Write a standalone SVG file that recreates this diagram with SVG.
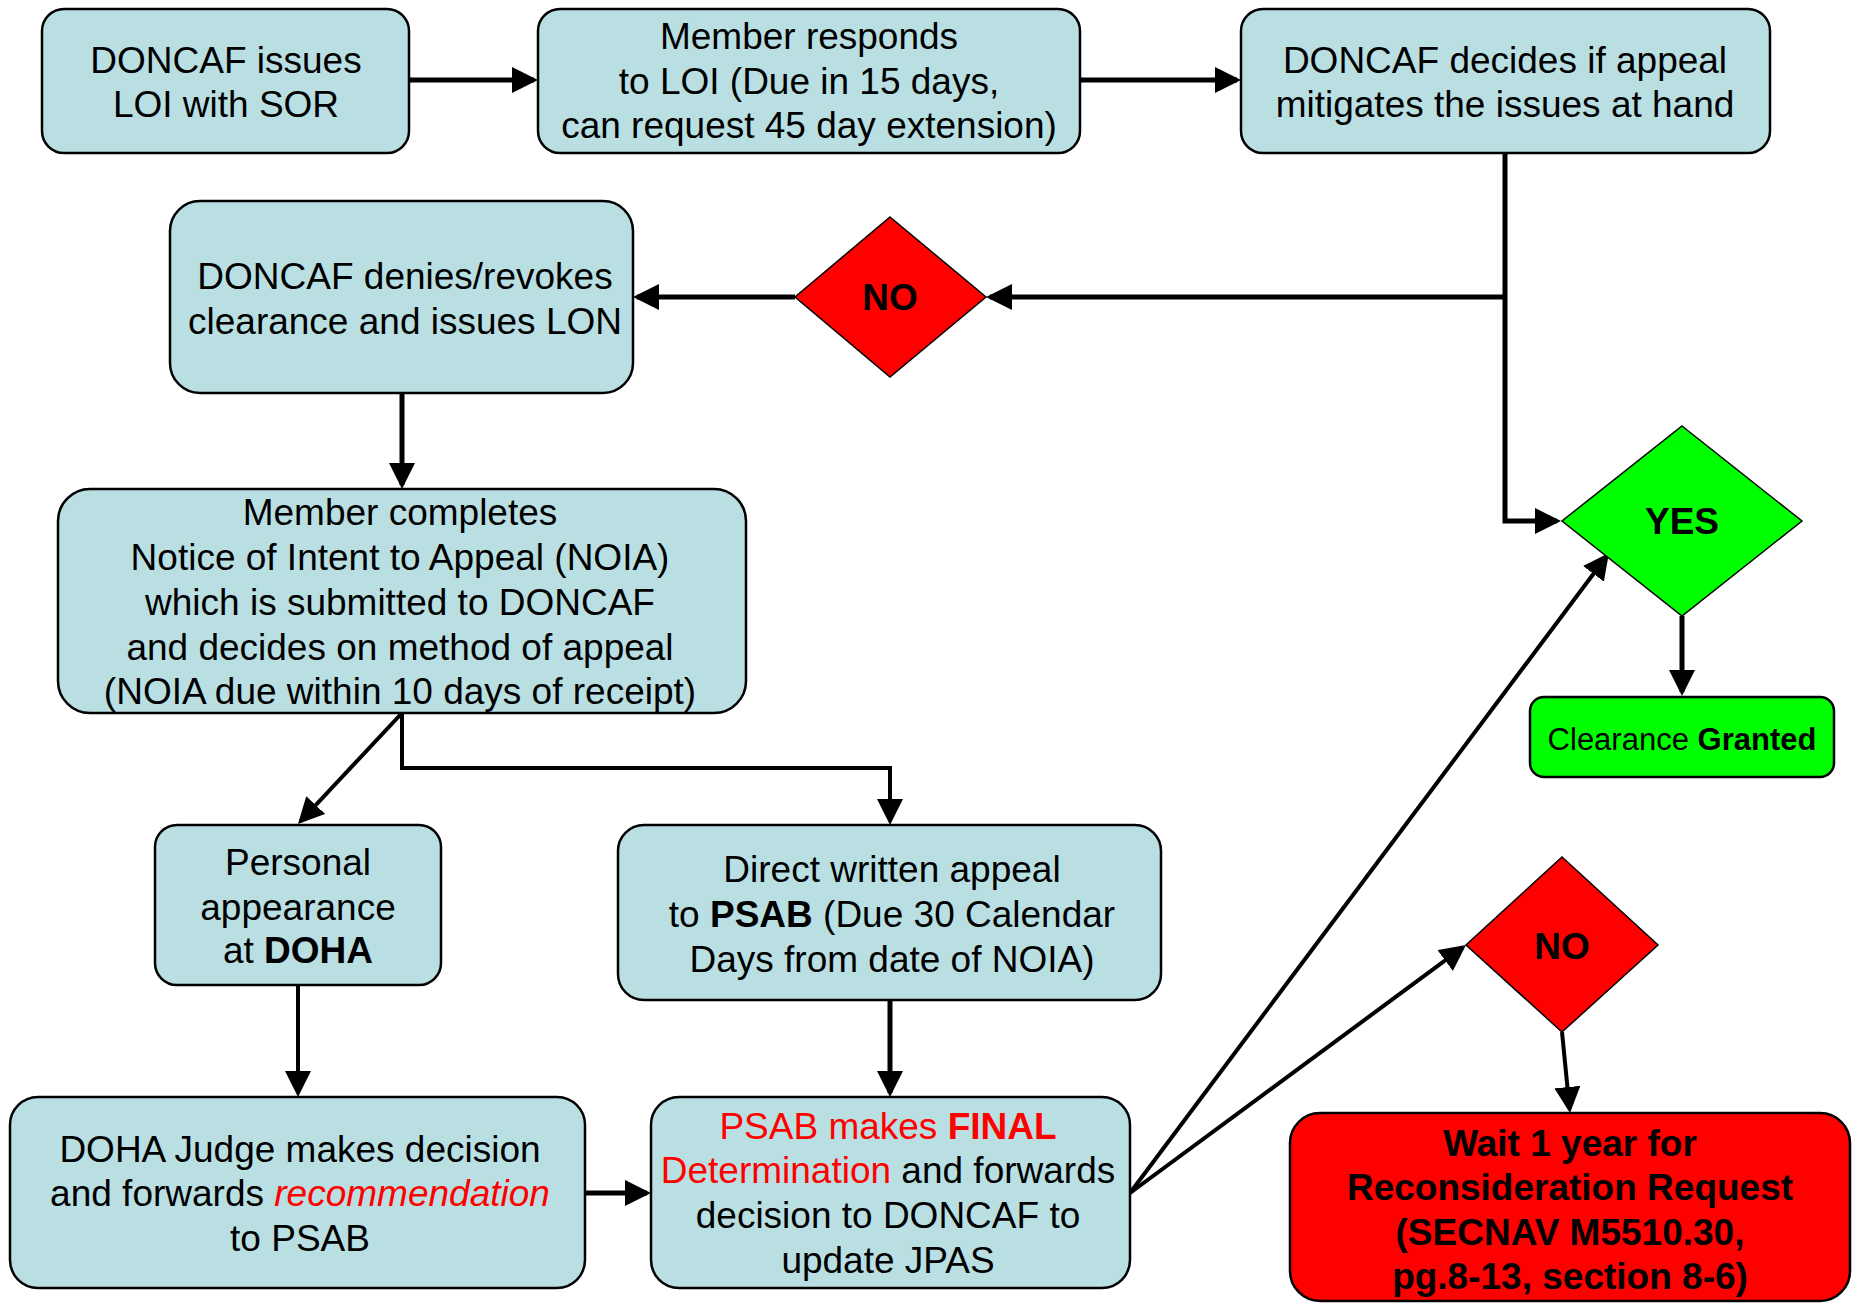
<svg xmlns="http://www.w3.org/2000/svg" width="1856" height="1303" viewBox="0 0 1856 1303">
<style>
.box{fill:#B9DFE3;stroke:#000;stroke-width:2.5}
.t{font-family:"Liberation Sans",Arial,sans-serif;font-size:37px;fill:#000;text-anchor:middle}
.b{font-weight:bold}
.r{fill:#FF0000}
.c{fill:none;stroke:#000;stroke-width:5}
.cn{fill:none;stroke:#000;stroke-width:4}
</style>
<defs>
<marker id="ah" viewBox="0 0 26 26" refX="22" refY="13" markerWidth="26" markerHeight="26" orient="auto" markerUnits="userSpaceOnUse">
<path d="M0,0 L26,13 L0,26 z" fill="#000"/>
</marker>
</defs>
<rect width="1856" height="1303" fill="#fff"/>

<g id="connectors">
<path class="c" d="M409,80 H534" marker-end="url(#ah)"/>
<path class="c" d="M1080,80 H1237" marker-end="url(#ah)"/>
<path class="c" d="M1505,153 V521 H1557" marker-end="url(#ah)"/>
<path class="c" d="M1505,297 H990" marker-end="url(#ah)"/>
<path class="c" d="M795,297 H637" marker-end="url(#ah)"/>
<path class="c" d="M402,393 V485" marker-end="url(#ah)"/>
<path class="cn" d="M402,713 L300.7,821.1" marker-end="url(#ah)"/>
<path class="cn" d="M402,713 V768 H890 V821" marker-end="url(#ah)"/>
<path class="cn" d="M298,985 V1093" marker-end="url(#ah)"/>
<path class="c" d="M890,1000 V1093" marker-end="url(#ah)"/>
<polygon points="874,992 886,984 889,999" fill="#000"/>
<path class="c" d="M585,1193 H647" marker-end="url(#ah)"/>
<path class="cn" d="M1130,1193 L1606.6,556.2" marker-end="url(#ah)"/>
<path class="cn" d="M1130,1193 L1462.8,947.4" marker-end="url(#ah)"/>
<path class="cn" d="M1562,1032 L1569.6,1109" marker-end="url(#ah)"/>
<path class="c" d="M1682,616 V692" marker-end="url(#ah)"/>
</g>

<g id="n1">
<rect class="box" x="42" y="9" width="367" height="144" rx="22"/>
<text class="t" x="226" y="73">DONCAF issues</text>
<text class="t" x="226" y="117">LOI with SOR</text>
</g>

<g id="n2">
<rect class="box" x="538" y="9" width="542" height="144" rx="22"/>
<text class="t" x="809" y="49">Member responds</text>
<text class="t" x="809" y="94">to LOI (Due in 15 days,</text>
<text class="t" x="809" y="138">can request 45 day extension)</text>
</g>

<g id="n3">
<rect class="box" x="1241" y="9" width="529" height="144" rx="22"/>
<text class="t" x="1505" y="73">DONCAF decides if appeal</text>
<text class="t" x="1505" y="117">mitigates the issues at hand</text>
</g>

<g id="no1">
<polygon points="890,217 986,297 890,377 795,297" fill="#FF0000" stroke="#000" stroke-width="1.5"/>
<text class="t b" x="890" y="310">NO</text>
</g>

<g id="n4">
<rect class="box" x="170" y="201" width="463" height="192" rx="30"/>
<text class="t" x="405" y="289">DONCAF denies/revokes</text>
<text class="t" x="405" y="334">clearance and issues LON</text>
</g>

<g id="n5">
<rect class="box" x="58" y="489" width="688" height="224" rx="32"/>
<text class="t" x="400" y="525">Member completes</text>
<text class="t" x="400" y="570">Notice of Intent to Appeal (NOIA)</text>
<text class="t" x="400" y="615">which is submitted to DONCAF</text>
<text class="t" x="400" y="660">and decides on method of appeal</text>
<text class="t" x="400" y="704">(NOIA due within 10 days of receipt)</text>
</g>

<g id="yes">
<polygon points="1682,426 1802,521 1682,616 1562,521" fill="#00FF00" stroke="#000" stroke-width="1.5"/>
<text class="t b" x="1682" y="534">YES</text>
</g>

<g id="granted">
<rect x="1530" y="697" width="304" height="80" rx="14" fill="#00FF00" stroke="#000" stroke-width="2.5"/>
<text class="t" x="1682" y="750" style="font-size:31px">Clearance <tspan class="b">Granted</tspan></text>
</g>

<g id="n6">
<rect class="box" x="155" y="825" width="286" height="160" rx="22"/>
<text class="t" x="298" y="875">Personal</text>
<text class="t" x="298" y="920">appearance</text>
<text class="t" x="298" y="963">at <tspan class="b">DOHA</tspan></text>
</g>

<g id="n7">
<rect class="box" x="618" y="825" width="543" height="175" rx="26"/>
<text class="t" x="892" y="882">Direct written appeal</text>
<text class="t" x="892" y="927">to <tspan class="b">PSAB</tspan> (Due 30 Calendar</text>
<text class="t" x="892" y="972">Days from date of NOIA)</text>
</g>

<g id="n8">
<rect class="box" x="10" y="1097" width="575" height="191" rx="28"/>
<text class="t" x="300" y="1162">DOHA Judge makes decision</text>
<text class="t" x="300" y="1206">and forwards <tspan class="r" font-style="italic">recommendation</tspan></text>
<text class="t" x="300" y="1251">to PSAB</text>
</g>

<g id="n9">
<rect class="box" x="651" y="1097" width="479" height="191" rx="28"/>
<text class="t r" x="888" y="1139">PSAB makes <tspan class="b">FINAL</tspan></text>
<text class="t" x="888" y="1183"><tspan class="r">Determination</tspan> and forwards</text>
<text class="t" x="888" y="1228">decision to DONCAF to</text>
<text class="t" x="888" y="1273">update JPAS</text>
</g>

<g id="no2">
<polygon points="1562,857 1658,945 1562,1032 1466,945" fill="#FF0000" stroke="#000" stroke-width="1.5"/>
<text class="t b" x="1562" y="959">NO</text>
</g>

<g id="n10">
<rect x="1290" y="1113" width="560" height="188" rx="30" fill="#FF0000" stroke="#000" stroke-width="2.5"/>
<text class="t b" x="1570" y="1156">Wait 1 year for</text>
<text class="t b" x="1570" y="1200">Reconsideration Request</text>
<text class="t b" x="1570" y="1245">(SECNAV M5510.30,</text>
<text class="t b" x="1570" y="1289">pg.8-13, section 8-6)</text>
</g>
</svg>
